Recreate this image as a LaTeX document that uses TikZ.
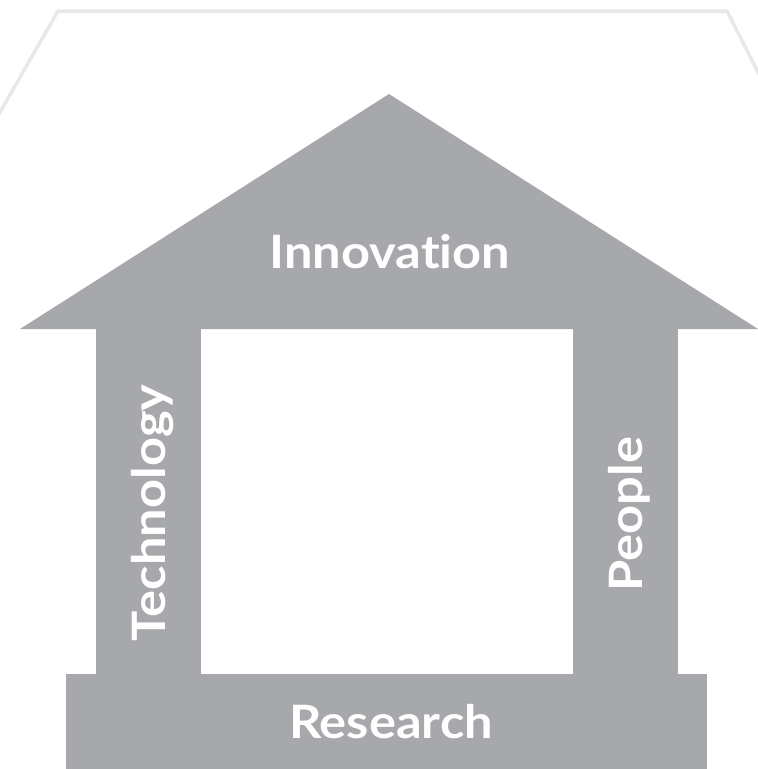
\documentclass[tikz,border=0pt]{standalone}
\usepackage{fontspec}
\setsansfont{Lato}[Ligatures=NoCommon, FakeStretch=1.1]
\definecolor{housegray}{HTML}{A7A8AB}
\definecolor{framegray}{HTML}{E8E8E8}
\begin{document}
\begin{tikzpicture}[x=1pt, y=-1pt,
    word/.style={text=white, inner sep=0pt, anchor=base,
        font=\sffamily\bfseries\fontsize{46}{46}\selectfont}]
\useasboundingbox (0,0) rectangle (758,769);
\clip (0,0) rectangle (758,769);
\draw[framegray, line width=3.5pt] (-20,147)--(58,11)--(727,11)--(770,96);
\fill[housegray] (20,329)--(389,94)--(758,329)--cycle;
\fill[housegray] (96,329) rectangle (201,674);
\fill[housegray] (573,329) rectangle (678,674);
\fill[housegray] (66,674) rectangle (707,769);
\node[word] (innovation) at (390,268) {Innovation};
\node[word] (research) at (391,738) {Research};
\node[word, rotate=90] (technology) at (165,513) {Technology};
\node[word, rotate=90] (people) at (642,514) {People};
\end{tikzpicture}
\end{document}
